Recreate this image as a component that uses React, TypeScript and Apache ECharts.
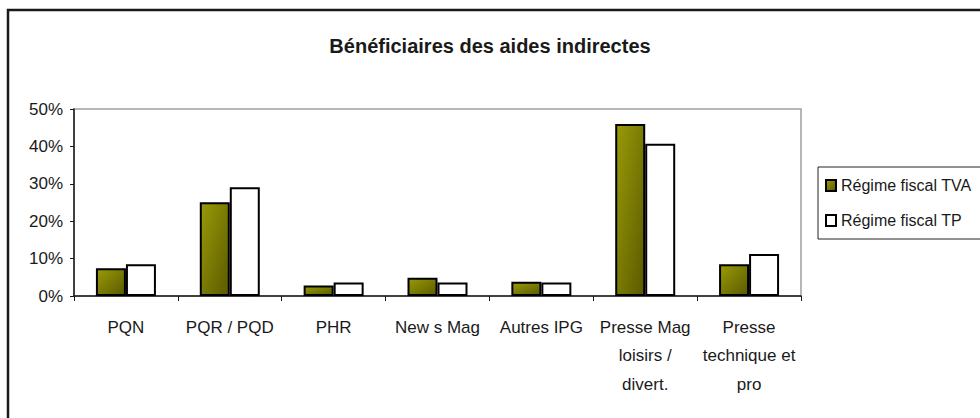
import React, { useEffect, useRef } from "react";
import * as echarts from "echarts";

const titleText = "Bénéficiaires des aides indirectes";
const categories = [
  "PQN",
  "PQR / PQD",
  "PHR",
  "New s Mag",
  "Autres IPG",
  "Presse Mag\nloisirs /\ndivert.",
  "Presse\ntechnique et\npro",
];
const seriesTVAName = "Régime fiscal TVA";
const seriesTPName = "Régime fiscal TP";
const tvaValues = [0.074, 0.251, 0.028, 0.049, 0.038, 0.46, 0.085];
const tpValues = [0.085, 0.291, 0.036, 0.036, 0.036, 0.407, 0.112];
const yTicks = { min: 0, max: 0.5, interval: 0.1 };

const FONT = "'Liberation Sans', Arial, sans-serif";

export default function App() {
  const ref = useRef<HTMLDivElement>(null);
  useEffect(() => {
    if (!ref.current) return;
    const chart = echarts.init(ref.current, undefined, { renderer: "svg" });
    const olive = new echarts.graphic.LinearGradient(0, 0, 1, 1, [
      { offset: 0, color: "#9a9a08" },
      { offset: 1, color: "#5a5a00" },
    ]);
    chart.setOption({
      animation: false,
      backgroundColor: "#ffffff",
      textStyle: { fontFamily: FONT },
      title: {
        text: titleText,
        left: "center",
        top: 31,
        textStyle: { fontFamily: FONT, fontSize: 20, fontWeight: "bold", color: "#1a1a1a" },
      },
      graphic: [
        {
          type: "rect",
          shape: { x: 8, y: 10, width: 1100, height: 600 },
          style: { fill: "none", stroke: "#1a1a1a", lineWidth: 2.5 },
          silent: true,
          z: 100,
        },
      ],
      legend: {
        orient: "vertical",
        left: 818,
        top: 167,
        padding: [8, 40, 8, 7],
        itemGap: 14,
        itemWidth: 10,
        itemHeight: 11,
        icon: "rect",
        borderColor: "#222",
        borderWidth: 1,
        textStyle: { fontFamily: FONT, fontSize: 16, lineHeight: 21, color: "#1a1a1a" },
        data: [seriesTVAName, seriesTPName],
      },
      grid: {
        left: 74,
        right: 179,
        top: 109,
        bottom: 122,
        show: true,
        borderColor: "#a0a0a0",
        borderWidth: 1.5,
        backgroundColor: "transparent",
      },
      xAxis: {
        type: "category",
        data: categories,
        axisLine: { lineStyle: { color: "#1a1a1a", width: 1.5 } },
        axisTick: { show: true, length: 5, lineStyle: { color: "#1a1a1a" } },
        axisLabel: {
          interval: 0,
          margin: 17,
          fontFamily: FONT,
          fontSize: 17,
          lineHeight: 28.5,
          color: "#1a1a1a",
        },
      },
      yAxis: {
        type: "value",
        min: yTicks.min,
        max: yTicks.max,
        interval: yTicks.interval,
        splitLine: { show: false },
        axisLine: { show: true, lineStyle: { color: "#1a1a1a", width: 1.5 } },
        axisTick: { show: true, length: 4, lineStyle: { color: "#1a1a1a" } },
        axisLabel: {
          margin: 11,
          fontFamily: FONT,
          fontSize: 17,
          color: "#1a1a1a",
          formatter: (v: number) => `${Math.round(v * 100)}%`,
        },
      },
      series: [
        {
          name: seriesTVAName,
          type: "bar",
          data: tvaValues,
          barWidth: 30,
          barGap: "0%",
          itemStyle: { color: olive, borderColor: "#000", borderWidth: 2 },
        },
        {
          name: seriesTPName,
          type: "bar",
          data: tpValues,
          barWidth: 30,
          barGap: "0%",
          itemStyle: { color: "#ffffff", borderColor: "#000", borderWidth: 2 },
        },
      ],
    });
    return () => chart.dispose();
  }, []);
  return (
    <div
      ref={ref}
      style={{ position: "fixed", left: 0, top: 0, width: 980, height: 418 }}
    />
  );
}
